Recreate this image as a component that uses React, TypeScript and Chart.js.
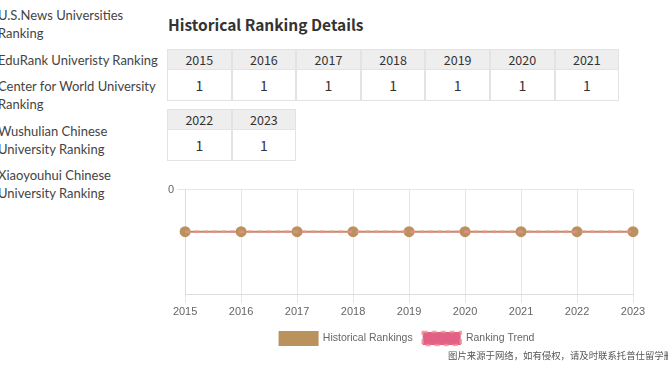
import React, { useEffect, useRef } from "react";
import { Chart, registerables } from "chart.js";

Chart.register(...registerables);

const rankingSources = [
  "U.S.News Universities Ranking",
  "EduRank Univeristy Ranking",
  "Center for World University Ranking",
  "Wushulian Chinese University Ranking",
  "Xiaoyouhui Chinese University Ranking",
];

const years = ["2015", "2016", "2017", "2018", "2019", "2020", "2021", "2022", "2023"];
const historicalRankings = [1, 1, 1, 1, 1, 1, 1, 1, 1];
const rankingTrend = [1, 1, 1, 1, 1, 1, 1, 1, 1];
const yTickValues = [0];

const title = "Historical Ranking Details";
const watermark = "图片来源于网络，如有侵权，请及时联系托普仕留学删除";

const TAN = "rgb(186,146,92)";
const PINK = "rgba(236,140,150,0.8)";

const pageFont = "'Noto Sans CJK SC', 'Noto Sans', sans-serif";
const listFont = "Lato, 'Noto Sans', sans-serif";
const chartFont = "'Liberation Sans', Arial, sans-serif";

const legendShift = {
  id: "legendShift",
  afterLayout(chart: any) {
    if (chart.legend) {
      chart.legend.left += 8;
      chart.legend.right += 8;
    }
  },
};

function Cell({ year, value }: { year: string; value: number }) {
  return (
    <div style={{ width: 64.6, boxSizing: "border-box", border: "1px solid #e3e3e3", flex: "0 0 auto" }}>
      <div
        style={{
          height: 19,
          background: "#eeeeee",
          borderBottom: "1px solid #e3e3e3",
          textAlign: "center",
          fontSize: 12.5,
          lineHeight: "19px",
          color: "#333",
        }}
      >
        {year}
      </div>
      <div style={{ height: 30, textAlign: "center", fontSize: 14, lineHeight: "30px", color: "#333" }}>{value}</div>
    </div>
  );
}

export default function App() {
  const ref = useRef<HTMLCanvasElement | null>(null);

  useEffect(() => {
    if (!ref.current) return;
    const chart = new Chart(ref.current, {
      type: "line",
      data: {
        labels: years,
        datasets: [
          {
            label: "Historical Rankings",
            data: historicalRankings,
            borderColor: TAN,
            backgroundColor: TAN,
            borderWidth: 2,
            pointRadius: 4.5,
            pointBackgroundColor: TAN,
            pointBorderColor: TAN,
            fill: false,
            order: 2,
          },
          {
            label: "Ranking Trend",
            data: rankingTrend,
            borderColor: PINK,
            backgroundColor: "rgb(226,96,132)",
            borderDash: [5, 4],
            borderWidth: 2.5,
            pointRadius: 0,
            fill: false,
            order: 1,
          },
        ],
      },
      plugins: [legendShift],
      options: {
        animation: false,
        responsive: false,
        maintainAspectRatio: false,
        layout: { padding: { left: 0, right: 16, top: 7, bottom: 0 } },
        plugins: {
          legend: {
            position: "bottom",
            labels: {
              color: "#666",
              font: { family: chartFont, size: 10.5 },
              boxWidth: 38,
              boxHeight: 13,
              padding: 10,
              sort: (a: any, b: any) => a.datasetIndex - b.datasetIndex,
            },
          },
          tooltip: { enabled: false },
        },
        scales: {
          x: {
            offset: false,
            grid: { color: "#e6e6e6" },
            border: { color: "#dddddd" },
            ticks: { color: "#666", font: { family: chartFont, size: 11 }, maxRotation: 0 },
          },
          y: {
            reverse: true,
            min: 0,
            max: 2.5,
            grid: { color: "#e6e6e6" },
            border: { color: "#dddddd" },
            afterBuildTicks: (scale: any) => {
              scale.ticks = yTickValues.map((v) => ({ value: v }));
            },
            ticks: { color: "#666", font: { family: chartFont, size: 11 } },
          },
        },
      },
    });
    return () => chart.destroy();
  }, []);

  return (
    <div style={{ position: "absolute", left: 0, top: 0, width: 668, height: 366, overflow: "hidden", background: "#fff", fontFamily: pageFont }}>
      <div style={{ position: "absolute", left: -2, top: 6, width: 160, fontFamily: listFont }}>
        {rankingSources.map((s) => (
          <div key={s} style={{ fontSize: 13, lineHeight: "18px", color: "#444", marginBottom: 8.5 }}>
            {s}
          </div>
        ))}
      </div>
      <div style={{ position: "absolute", left: 168, top: 13, fontSize: 15.5, fontWeight: 700, color: "#333", lineHeight: "22px" }}>
        {title}
      </div>
      <div style={{ position: "absolute", left: 167, top: 49, width: 460, display: "flex", flexWrap: "wrap", rowGap: 8 }}>
        {years.map((y, i) => (
          <Cell key={y} year={y} value={historicalRankings[i]} />
        ))}
      </div>
      <canvas ref={ref} width={484} height={175} style={{ position: "absolute", left: 165, top: 180, width: 484, height: 175 }} />
      <div style={{ position: "absolute", left: 448, top: 348, fontSize: 9.4, color: "#555", whiteSpace: "nowrap", fontFamily: "'Noto Sans CJK SC', sans-serif", lineHeight: "14px" }}>
        {watermark}
      </div>
    </div>
  );
}
